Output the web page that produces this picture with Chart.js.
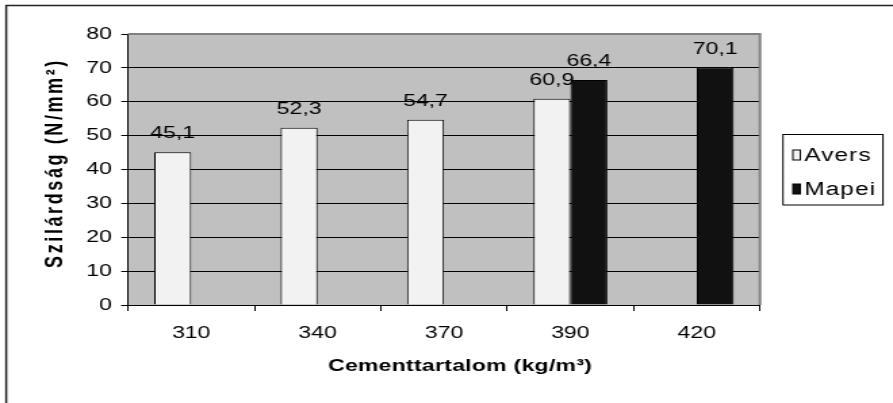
<!DOCTYPE html>
<html>
<head>
<meta charset="utf-8">
<script src="https://cdn.jsdelivr.net/npm/chart.js@4"></script>
<style>
  html, body { margin: 0; padding: 0; background: #fff; overflow: hidden; }
  #wrap { width: 660px; height: 403px; transform: scaleX(1.3530); transform-origin: 0 0; }
</style>
</head>
<body>
<div id="wrap"><canvas id="strengthChart" width="660" height="403"></canvas></div>
<script>
// adatok
const categories = ['310', '340', '370', '390', '420'];
const aversValues = [45.1, 52.3, 54.7, 60.9, null];
const mapeiValues = [null, null, null, 66.4, 70.1];
const seriesNames = ['Avers', 'Mapei'];
const yMin = 0, yMax = 80, yStep = 10;
const xTitle = 'Cementtartalom (kg/m³)';
const yTitle = 'Szilárdság (N/mm²)';

const FONT = '"Liberation Sans", Arial, sans-serif';

const ctx = document.getElementById('strengthChart').getContext('2d');

function fmt(v) {
    return v.toFixed(1).replace('.', ',');
}

// háttér, keret, feliratok, jelmagyarázat
const excelLook = {
    id: 'excelLook',
    beforeDraw(chart) {
        const c = chart.ctx, a = chart.chartArea;
        c.save();
        c.fillStyle = '#fff';
        c.fillRect(0, 0, chart.width, chart.height);
        c.fillStyle = '#C0C0C0';
        c.fillRect(a.left, a.top, a.right - a.left, a.bottom - a.top);
        // külső keret (csak bal és felső látszik)
        c.strokeStyle = '#222';
        c.lineWidth = 1.5;
        c.beginPath();
        c.moveTo(4.6, chart.height);
        c.lineTo(4.6, 5.5);
        c.lineTo(chart.width, 5.5);
        c.stroke();
        c.restore();
    },
    afterDatasetsDraw(chart) {
        const c = chart.ctx;
        c.save();
        c.fillStyle = '#000';
        c.font = '17px ' + FONT;
        c.textAlign = 'center';
        c.textBaseline = 'alphabetic';
        chart.data.datasets.forEach((ds, i) => {
            const meta = chart.getDatasetMeta(i);
            meta.data.forEach((bar, j) => {
                const v = ds.data[j];
                if (v === null || v === undefined) return;
                c.fillText(fmt(v), bar.x, bar.y - 14);
            });
        });
        c.restore();
    },
    afterDraw(chart) {
        const c = chart.ctx, a = chart.chartArea;
        c.save();
        // szürke keret fent és jobbra
        c.strokeStyle = '#808080';
        c.lineWidth = 2;
        c.beginPath();
        c.moveTo(a.left, a.top);
        c.lineTo(a.right, a.top);
        c.lineTo(a.right, a.bottom);
        c.stroke();

        // tengelycímek
        c.fillStyle = '#000';
        c.font = 'bold 17px ' + FONT;
        c.textAlign = 'center';
        c.textBaseline = 'middle';
        c.letterSpacing = '0.2px';
        c.fillText(xTitle, 340, 366);
        c.save();
        c.translate(41.4, 163);
        c.rotate(-Math.PI / 2);
        c.font = 'bold 18px ' + FONT;
        c.letterSpacing = '2.6px';
        c.fillText(yTitle, 0, 0);
        c.restore();

        // jelmagyarázat
        c.letterSpacing = '0.8px';
        c.strokeStyle = '#000';
        c.lineWidth = 1;
        c.strokeRect(578.7, 134.5, 73.9, 70.5);
        c.font = '18px ' + FONT;
        c.textAlign = 'left';
        const rows = [155, 189];
        chart.data.datasets.forEach((ds, i) => {
            const y = rows[i];
            c.fillStyle = ds.backgroundColor;
            c.fillRect(586, y - 5, 5.5, 10);
            c.strokeRect(586, y - 5, 5.5, 10);
            c.fillStyle = '#000';
            c.fillText(ds.label, 594.5, y + 1);
        });
        c.restore();
    }
};

const strengthChart = new Chart(ctx, {
    type: 'bar',
    data: {
        labels: categories,
        datasets: [{
            label: seriesNames[0],
            data: aversValues,
            backgroundColor: '#F2F2F2',
            borderColor: '#000',
            borderWidth: 1
        }, {
            label: seriesNames[1],
            data: mapeiValues,
            backgroundColor: '#111111',
            borderColor: '#000',
            borderWidth: 1
        }]
    },
    options: {
        responsive: false,
        animation: false,
        devicePixelRatio: 1,
        categoryPercentage: 0.585,
        barPercentage: 1.0,
        layout: {
            padding: { top: 34, right: 98.3, left: 0, bottom: 0 }
        },
        plugins: {
            legend: { display: false },
            title: { display: false },
            tooltip: { enabled: false }
        },
        scales: {
            x: {
                ticks: {
                    color: '#000',
                    font: { family: FONT, size: 17 },
                    padding: 12
                },
                grid: {
                    drawOnChartArea: false,
                    offset: true,
                    tickLength: 6,
                    color: '#000'
                },
                border: { color: '#000' },
                afterFit(scale) { scale.height = 98; }
            },
            y: {
                min: yMin,
                max: yMax,
                ticks: {
                    stepSize: yStep,
                    color: '#000',
                    font: { family: FONT, size: 17 },
                    padding: 7
                },
                grid: {
                    color: '#000',
                    tickLength: 5
                },
                border: { color: '#000' },
                afterFit(scale) { scale.width = 94.6; }
            }
        }
    },
    plugins: [excelLook]
});
</script>
</body>
</html>
